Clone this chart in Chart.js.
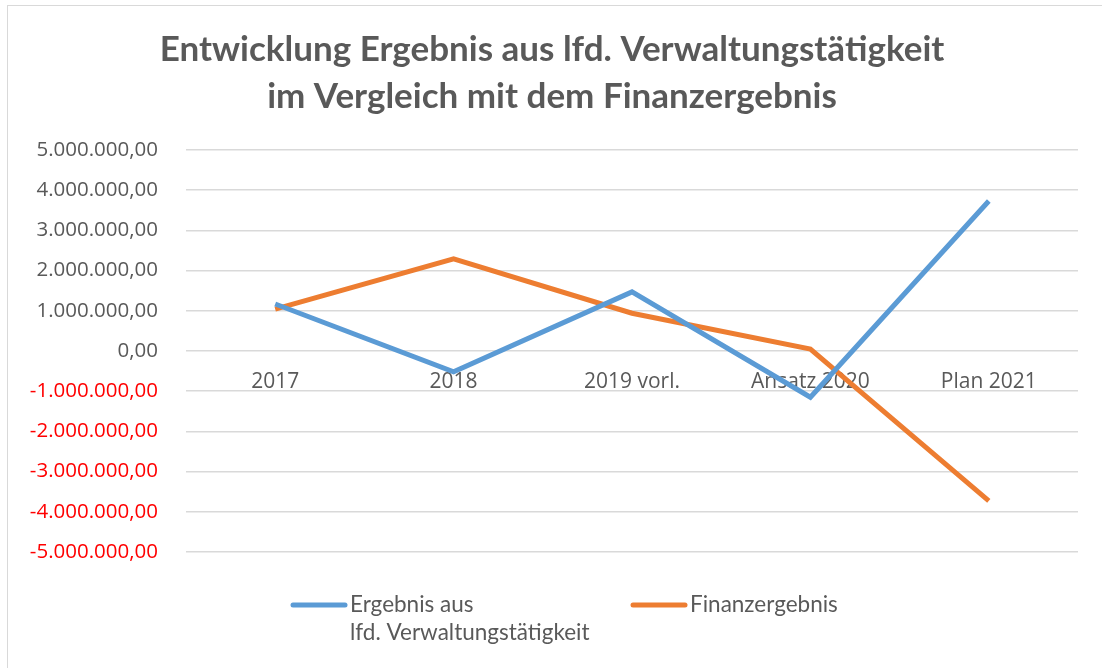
<!DOCTYPE html>
<html>
<head>
<meta charset="utf-8">
<script src="https://cdn.jsdelivr.net/npm/chart.js@4"></script>
<style>
  body { margin: 0; background: #fff; }
  #frame { position: absolute; left: 7px; top: 5px; width: 1110px; height: 700px; border: 1px solid #d9d9d9; }
  #wrap { position: absolute; left: 0; top: 0; width: 1102px; height: 668px; }
</style>
</head>
<body>
<div id="frame"></div>
<div id="wrap"><canvas id="lineChart"></canvas></div>
<script>
const categories = ["2017", "2018", "2019 vorl.", "Ansatz 2020", "Plan 2021"];
const ergebnisVerwaltung = [1170000, -520000, 1470000, -1150000, 3730000];
const finanzergebnis = [1040000, 2290000, 940000, 50000, -3730000];
const seriesLabels = [["Ergebnis aus", "lfd. Verwaltungstätigkeit"], ["Finanzergebnis"]];
const titleLines = ["Entwicklung Ergebnis aus lfd. Verwaltungstätigkeit", "im Vergleich mit dem Finanzergebnis"];

const grey = "#595959";

// German number format: 1.000.000,00
const formatDe = (v) => {
  let neg = v < 0;
  let s = Math.abs(Math.round(v)).toString().replace(/\B(?=(\d{3})+(?!\d))/g, ".");
  return (neg ? "-" : "") + s + ",00";
};

// legend drawn below the plot, first label wraps to two lines
const bottomLegend = {
  id: "bottomLegend",
  afterDraw(chart) {
    const ctx = chart.ctx;
    const xs = [293, 633];
    const y = 605;
    ctx.save();
    ctx.font = "22.5px Lato";
    ctx.textBaseline = "middle";
    ctx.fillStyle = grey;
    chart.data.datasets.forEach((ds, i) => {
      ctx.strokeStyle = ds.borderColor;
      ctx.lineWidth = 5;
      ctx.lineCap = "round";
      ctx.beginPath();
      ctx.moveTo(xs[i], y);
      ctx.lineTo(xs[i] + 52, y);
      ctx.stroke();
      seriesLabels[i].forEach((line, j) => {
        ctx.fillText(line, xs[i] + 57, y + j * 28);
      });
    });
    ctx.restore();
  }
};

new Chart(document.getElementById("lineChart"), {
  type: "line",
  data: {
    labels: categories,
    datasets: [
      {
        label: seriesLabels[0].join(" "),
        data: ergebnisVerwaltung,
        borderColor: "#5b9bd5",
        backgroundColor: "#5b9bd5",
        borderWidth: 5,
        pointRadius: 0,
        tension: 0
      },
      {
        label: seriesLabels[1].join(" "),
        data: finanzergebnis,
        borderColor: "#ed7d31",
        backgroundColor: "#ed7d31",
        borderWidth: 5,
        pointRadius: 0,
        tension: 0
      }
    ]
  },
  options: {
    responsive: true,
    maintainAspectRatio: false,
    animation: false,
    layout: { padding: { left: 26, right: 24, top: 0, bottom: 116 } },
    plugins: {
      legend: { display: false },
      tooltip: { enabled: false },
      title: {
        display: true,
        text: titleLines,
        color: grey,
        font: { family: "Lato", size: 35, weight: "bold", lineHeight: "47px" },
        padding: { top: 26, bottom: 30 }
      }
    },
    scales: {
      x: {
        offset: true,
        position: { y: 0 },
        grid: { display: false },
        border: { display: false },
        ticks: {
          color: grey,
          padding: 10,
          maxRotation: 0,
          font: { family: "Open Sans", size: 21 }
        }
      },
      y: {
        min: -5000000,
        max: 5000000,
        afterFit: (scale) => { scale.width = 160; },
        grid: { color: "#d9d9d9", lineWidth: 1.5, drawTicks: false },
        border: { display: false },
        ticks: {
          stepSize: 1000000,
          padding: 28,
          font: { family: "Open Sans", size: 20.5 },
          color: (c) => (c.tick && c.tick.value < 0 ? "#ff0000" : grey),
          callback: (v) => formatDe(v)
        }
      }
    }
  },
  plugins: [bottomLegend]
});
</script>
</body>
</html>
